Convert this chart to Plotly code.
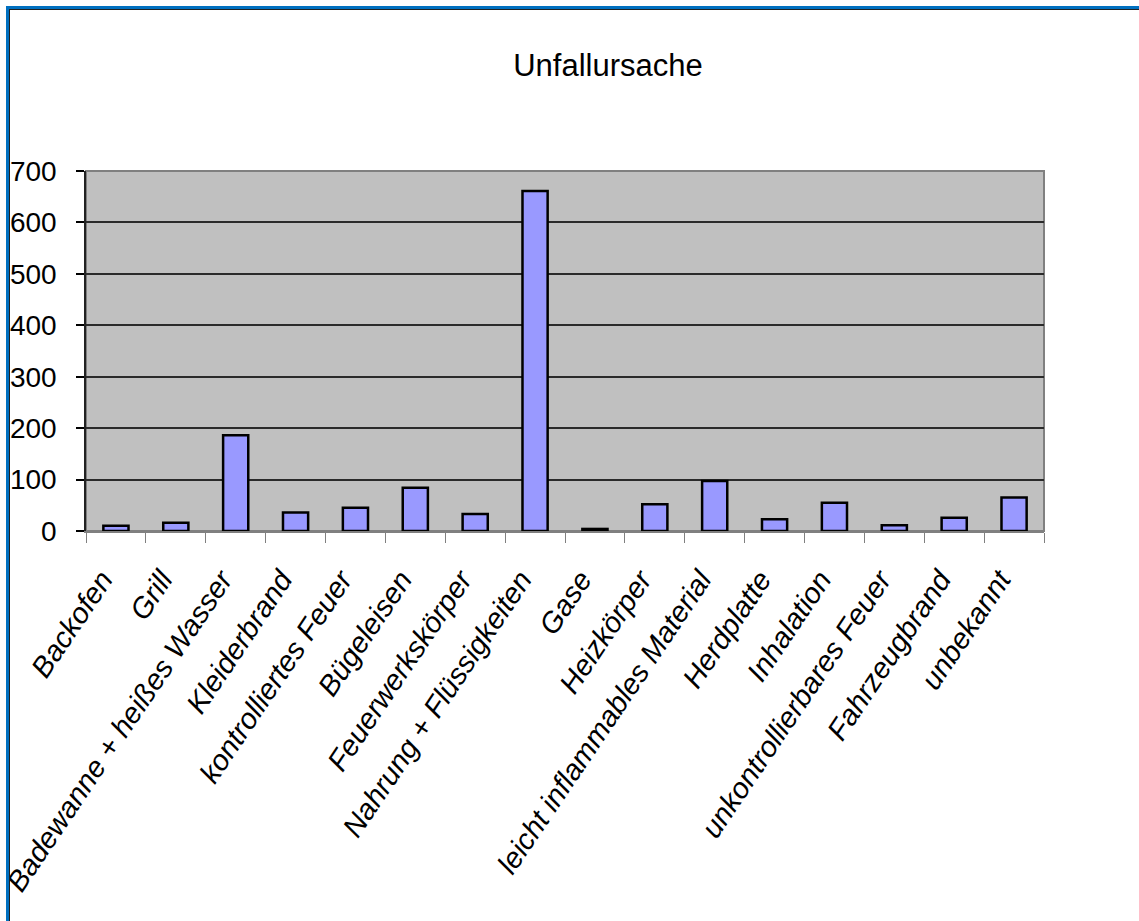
import plotly.graph_objects as go

categories = [
    "Backofen", "Grill", "Badewanne + heißes Wasser", "Kleiderbrand",
    "kontrolliertes Feuer", "Bügeleisen", "Feuerwerkskörper",
    "Nahrung + Flüssigkeiten", "Gase", "Heizkörper",
    "leicht inflammables Material", "Herdplatte", "Inhalation",
    "unkontrollierbares Feuer", "Fahrzeugbrand", "unbekannt",
]
counts = [10, 16, 186, 36, 45, 84, 33, 661, 4, 52, 97, 23, 55, 11, 26, 65]
y_ticks = [0, 100, 200, 300, 400, 500, 600, 700]

W, H = 1139, 921
L, R, T, B = 86, 95, 171, 390

FONT = "Liberation Sans, Arial, sans-serif"

fig = go.Figure(
    go.Bar(
        x=categories,
        y=counts,
        marker=dict(color="#9999FF", line=dict(color="black", width=2.5)),
    )
)

pw = W - L - R
ph = H - T - B


def px_x(p):
    return (p - L) / pw


def px_y(p):
    return (H - B - p) / ph


# page frame: blue outer line with a thin dark inner line (left and top)
shapes = [
    dict(type="line", xref="paper", yref="paper", x0=px_x(7.5), x1=px_x(7.5),
         y0=px_y(6), y1=px_y(925), line=dict(color="#0070C0", width=3)),
    dict(type="line", xref="paper", yref="paper", x0=px_x(6), x1=px_x(1145),
         y0=px_y(7.5), y1=px_y(7.5), line=dict(color="#0070C0", width=3)),
    dict(type="line", xref="paper", yref="paper", x0=px_x(9.5), x1=px_x(9.5),
         y0=px_y(9), y1=px_y(925), line=dict(color="#222222", width=1)),
    dict(type="line", xref="paper", yref="paper", x0=px_x(9), x1=px_x(1145),
         y0=px_y(9.5), y1=px_y(9.5), line=dict(color="#222222", width=1)),
    # plot area border (grey)
    dict(type="rect", xref="paper", yref="paper", x0=0, x1=1, y0=0, y1=1,
         line=dict(color="#808080", width=2), layer="below"),
]

fig.update_layout(
    width=W,
    height=H,
    margin=dict(l=L, r=R, t=T, b=B, autoexpand=False),
    paper_bgcolor="white",
    plot_bgcolor="#C0C0C0",
    showlegend=False,
    bargap=0.58,
    title=dict(
        text="Unfallursache",
        x=608 / W,
        xanchor="center",
        y=1 - 65 / H,
        yanchor="middle",
        font=dict(family=FONT, size=31, color="black"),
    ),
    font=dict(family=FONT, color="black"),
    shapes=shapes,
)

fig.update_xaxes(
    type="category",
    automargin=False,
    tickangle=-56,
    tickson="boundaries",
    ticks="outside",
    ticklen=10,
    tickcolor="#808080",
    tickwidth=1,
    showline=True,
    linecolor="#808080",
    linewidth=2,
    showgrid=False,
    ticklabelstandoff=18,
    ticklabelshift=-14,
    tickfont=dict(family=FONT, size=29, color="black", style="italic"),
)

fig.update_yaxes(
    automargin=False,
    range=[0, 700],
    tickvals=y_ticks,
    ticks="outside",
    ticklen=8,
    tickcolor="black",
    tickwidth=1.5,
    showline=True,
    linecolor="#222222",
    linewidth=1.5,
    showgrid=True,
    gridcolor="#2a2a2a",
    gridwidth=1.5,
    zeroline=False,
    ticklabelstandoff=14,
    tickfont=dict(family=FONT, size=28, color="black"),
)

fig.write_html("out.html")
